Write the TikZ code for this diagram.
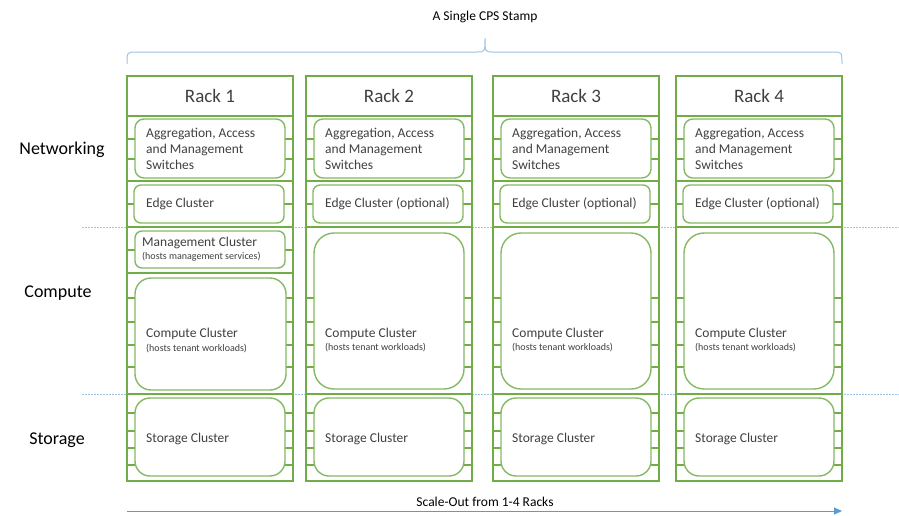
\documentclass[tikz,border=0pt]{standalone}
\usepackage{fontspec}
\setmainfont{Carlito}
\usetikzlibrary{arrows.meta}
\definecolor{rackgreen}{HTML}{70AD47}
\definecolor{guideblue}{HTML}{9DC3E6}
\definecolor{arrowblue}{HTML}{5B9BD5}
\definecolor{textgrey}{HTML}{404040}
\tikzset{
	rackframe/.style={draw=rackgreen, line width=2.4pt},
	rackline/.style={draw=rackgreen, line width=1.8pt},
	clusterbox/.style={draw=rackgreen!85, line width=1.4pt, fill=white},
	clustertext/.style={anchor=west, align=left, text=textgrey, inner sep=0pt, font=\fontsize{13.5}{16}\selectfont},
	notetext/.style={anchor=west, text=textgrey, inner sep=0pt, font=\fontsize{10}{12}\selectfont},
	racktitle/.style={text=textgrey, inner sep=0pt, font=\fontsize{19}{22}\selectfont},
	layertext/.style={inner sep=0pt, font=\fontsize{18}{21}\selectfont},
	captext/.style={inner sep=0pt, font=\fontsize{13.5}{16}\selectfont},
	guide/.style={draw=guideblue, line width=1pt, dash pattern=on 1.5pt off 1.5pt},
}
% parts every rack has: (left,right){number}{edge label}
\def\rackparts(#1,#2)#3#4{
	\foreach \y in {139,159,204,413,431,448,465}
		\draw[rackline] (#1,\y) -- (#2,\y);
	\draw[rackline] (#1,116) -- (#2,116);
	\draw[rackline] (#1,181) -- (#2,181);
	\draw[rackline] (#1,227) -- (#2,227);
	\draw[rackline] (#1,394) -- (#2,394);
	\draw[clusterbox, rounded corners=9pt] (#1+8,119) rectangle (#2-8,178);
	\draw[clusterbox, rounded corners=7pt] (#1+7,185) rectangle (#2-9,223);
	\draw[clusterbox, rounded corners=15pt] (#1+8,398) rectangle (#2-8,476);
	\draw[rackframe] (#1,76) rectangle (#2,481);
	\node[racktitle] (r#3title) at ({(#1+#2)/2},96) {Rack #3};
	\node[clustertext] (r#3agg) at (#1+19,149) {Aggregation, Access\\and Management\\Switches};
	\node[clustertext] (r#3edge) at (#1+19,204) {#4};
	\node[clustertext] (r#3store) at (#1+19,439) {Storage Cluster};
}
% shared compute box of racks 2-4
\def\computebox(#1,#2)#3{
	\foreach \y in {298,322,345,367}
		\draw[rackline] (#1,\y) -- (#2,\y);
	\draw[clusterbox, rounded corners=20pt] (#1+8,233) rectangle (#2-8,389);
	\node[clustertext] (r#3comp) at (#1+19,334) {Compute Cluster};
	\node[notetext] (r#3compnote) at (#1+19,348) {(hosts tenant workloads)};
}

\begin{document}
\begin{tikzpicture}[x=1pt,y=-1pt]
	\useasboundingbox (0,0) rectangle (899,515);
	
	%%%%% layers %%%%%
	\draw[guide] (82,227) -- (899,227);
	\draw[guide] (82,394) -- (899,394);
	\node[layertext] (netlayer) at (62,150) {Networking};
	\node[layertext] (complayer) at (58,293) {Compute};
	\node[layertext] (storelayer) at (57,440) {Storage};
	
	%%%%% racks %%%%%
	\rackparts(127,293){1}{Edge Cluster}
	\rackparts(306,472){2}{Edge Cluster (optional)}
	\rackparts(493,659){3}{Edge Cluster (optional)}
	\rackparts(676,842){4}{Edge Cluster (optional)}
	
	% rack 1 keeps the management cluster
	\foreach \y in {250,298,322,345,367}
		\draw[rackline] (127,\y) -- (293,\y);
	\draw[rackline] (127,273) -- (293,273);
	\draw[clusterbox, rounded corners=7pt] (135,231) rectangle (285,268);
	\draw[clusterbox, rounded corners=16pt] (135,278) rectangle (286,390);
	\draw[rackframe] (127,76) rectangle (293,481);
	\node[clustertext] (r1mgmt) at (142,243) {Management Cluster};
	\node[notetext] (r1mgmtnote) at (142,257) {(hosts management services)};
	\node[clustertext] (r1comp) at (146,334) {Compute Cluster};
	\node[notetext] (r1compnote) at (146,349) {(hosts tenant workloads)};
	
	\computebox(306,472){2}
	\computebox(493,659){3}
	\computebox(676,842){4}
	
	%%%%% stamp brace %%%%%
	\node[captext] (stamp) at (485,17) {A Single CPS Stamp};
	\draw[guideblue, line width=1pt] (127,64) .. controls (127,52) .. (137,52) -- (477,52)
		.. controls (485,52) .. (485,38) .. controls (485,52) .. (493,52) -- (832,52)
		.. controls (842,52) .. (842,64);
	
	%%%%% scale-out arrow %%%%%
	\coordinate (scalefrom) at (127,511);
	\coordinate (scaleto) at (842,511);
	\draw[arrowblue, line width=1pt, -{Triangle[length=8pt,width=7pt]}] (scalefrom) -- (scaleto);
	\node[captext] (scaletext) at (485,502) {Scale-Out from 1-4 Racks};
\end{tikzpicture}
\end{document}
